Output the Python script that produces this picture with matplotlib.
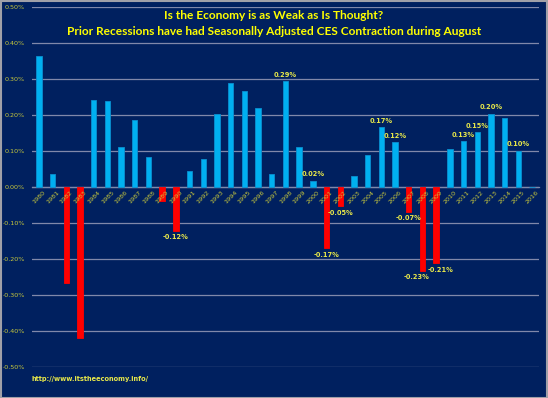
import matplotlib.pyplot as plt
from matplotlib.patches import Rectangle
from matplotlib.transforms import ScaledTranslation
import numpy as np

# August seasonally adjusted CES change, percent
years = [str(y) for y in range(1980, 2017)]
changes = [0.365, 0.037, -0.268, -0.420, 0.241, 0.239, 0.111, 0.186, 0.083, -0.039,
           -0.122, 0.045, 0.079, 0.204, 0.290, 0.266, 0.220, 0.036, 0.294, 0.112,
           0.017, -0.170, -0.053, 0.032, 0.090, 0.166, 0.124, -0.068, -0.233, -0.212,
           0.106, 0.127, 0.153, 0.204, 0.193, 0.101, np.nan]
# years that carry a data label
labelled = ['1990', '1998', '2000', '2001', '2002', '2005', '2006', '2007',
            '2008', '2009', '2011', '2012', '2013', '2015']
yticks = [-0.5, -0.4, -0.3, -0.2, -0.1, 0.0, 0.1, 0.2, 0.3, 0.4, 0.5]

bg = '#00205f'
tick_col = '#c8c83c'
lab_col = '#e8e84a'

fig = plt.figure(figsize=(5.48, 3.98), dpi=100)
fig.patch.set_facecolor(bg)
ax = fig.add_axes([0.0584, 0.078, 0.925, 0.904])
ax.set_facecolor(bg)

x = np.arange(len(years))
vals = np.nan_to_num(np.array(changes, dtype=float))
colors = ['#ff0000' if v < 0 else '#00b0f0' for v in vals]
edges = ['#ff0000' if v < 0 else '#0a8fd0' for v in vals]
ax.bar(x, vals, width=0.4, color=colors, edgecolor=edges, linewidth=0.6, zorder=3)

ax.set_xlim(-0.5, len(years) - 0.5)
ax.set_ylim(-0.5, 0.5)
ax.set_yticks(yticks)
ax.set_yticklabels([f'{t:.2f}%' for t in yticks])
ax.grid(axis='y', color='#8088aa', linewidth=0.9, zorder=1)
ax.set_axisbelow(True)

for s in ['top', 'right', 'left']:
    ax.spines[s].set_visible(False)
ax.spines['bottom'].set_position(('data', 0))
ax.spines['bottom'].set_color('#8088aa')
ax.spines['bottom'].set_linewidth(0.9)

ax.set_xticks(x)
ax.set_xticklabels(years, rotation=45, ha='right', rotation_mode='anchor')
ax.tick_params(axis='x', length=0, pad=2, labelsize=4.6, labelcolor=tick_col)
ax.tick_params(axis='y', length=0, pad=5, labelsize=4.6, labelcolor=tick_col)
ax.xaxis.set_zorder(5)
for t in ax.get_xticklabels():
    t.set_transform(t.get_transform() + ScaledTranslation(0.04, 0, fig.dpi_scale_trans))

# small sideways nudges where neighbouring labels would collide
nudge = {'2008': -4, '2009': 3}
for i, (yr, v) in enumerate(zip(years, vals)):
    if yr in labelled:
        off = 2.5 if v >= 0 else -2.5
        ax.annotate(f'{v:.2f}%', (i, v), xytext=(nudge.get(yr, 0), off),
                    textcoords='offset points', ha='center',
                    va='bottom' if v >= 0 else 'top',
                    fontsize=4.8, fontweight='bold', color=lab_col, zorder=6)

fig.text(0.5, 0.96, 'Is the Economy is as Weak as Is Thought?', ha='center', va='center',
         fontsize=8.6, fontweight='bold', color='#ffff00', family='Lato')
fig.text(0.5, 0.922, 'Prior Recessions have had Seasonally Adjusted CES Contraction during August',
         ha='center', va='center', fontsize=8.6, fontweight='bold', color='#ffff00', family='Lato')
fig.text(0.057, 0.048, 'http://www.itstheeconomy.info/', ha='left', va='center',
         fontsize=4.8, fontweight='bold', color=lab_col)

fig.patches.append(Rectangle((0.001, 0.001), 0.997, 0.997, transform=fig.transFigure,
                             fill=False, edgecolor='#a0a0a8', linewidth=1.5))

fig.savefig('out.png', dpi=100, facecolor=bg)
